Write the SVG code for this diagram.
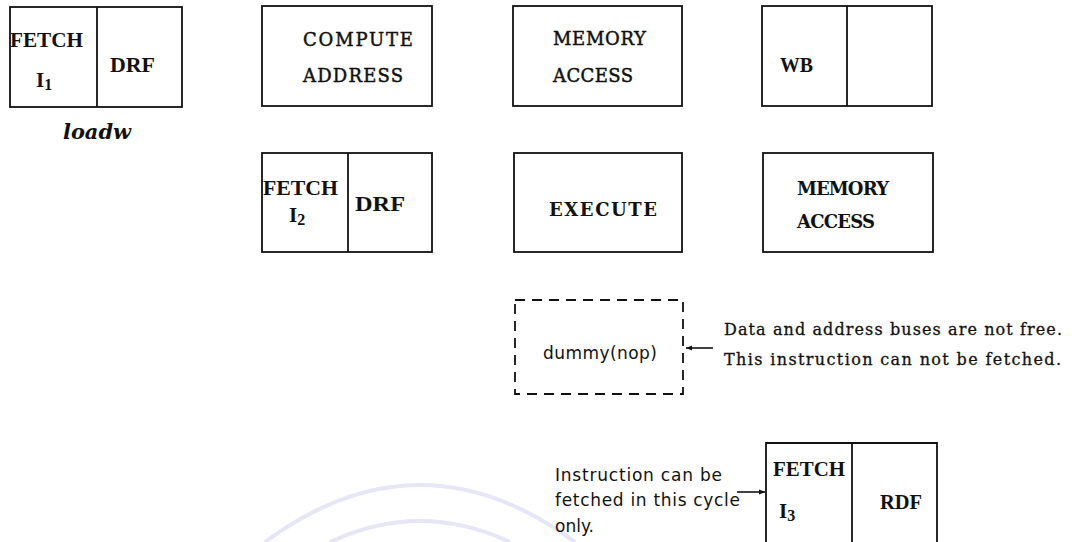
<svg xmlns="http://www.w3.org/2000/svg" width="1080" height="542" viewBox="0 0 1080 542">
<defs>
<style>
.box{fill:none;stroke:#111;stroke-width:1.8}
.dash{fill:none;stroke:#111;stroke-width:1.8;stroke-dasharray:10 7}
.lbl{font-family:"Liberation Serif","DejaVu Serif",serif;font-weight:bold;font-size:21px;fill:#111}
.lbm{font-family:"DejaVu Serif","Liberation Serif",serif;font-weight:bold;font-size:18px;fill:#111}
.lbn{font-family:"DejaVu Serif","Liberation Serif",serif;font-size:18px;fill:#111;stroke:#111;stroke-width:0.45}
.note{font-family:"DejaVu Serif","Liberation Serif",serif;font-size:16px;fill:#111;stroke:#111;stroke-width:0.3}
.sans{font-family:"DejaVu Sans","Liberation Sans",sans-serif;font-size:17px;fill:#111}
.conn{stroke:#111;stroke-width:1.6;fill:none}
</style>
<marker id="ah" viewBox="0 0 10 10" refX="10" refY="5" markerWidth="7" markerHeight="6" orient="auto" markerUnits="userSpaceOnUse">
<path d="M0,1 L10,5 L0,9 Z" fill="#111"/>
</marker>
</defs>
<rect width="1080" height="542" fill="#fff"/>
<g id="watermark" fill="none" stroke="#e6e6f6" stroke-width="4">
<path d="M265,542 Q420,428 575,542"/>
<path d="M330,542 Q420,500 510,542"/>
</g>
<g id="n_fetch1">
<rect class="box" x="10" y="7" width="172" height="100"/>
<line class="box" x1="97" y1="7" x2="97" y2="107"/>
<text class="lbl" x="10" y="47" textLength="73" lengthAdjust="spacingAndGlyphs">FETCH</text>
<text class="lbl" x="36" y="87">I<tspan font-size="16" dy="3">1</tspan></text>
<text class="lbl" x="110" y="72" textLength="45" lengthAdjust="spacingAndGlyphs">DRF</text>
</g>
<g id="t_loadw">
<text x="63" y="139" font-family="'DejaVu Serif','Liberation Serif',serif" font-style="italic" font-weight="bold" font-size="21" fill="#111" textLength="68" lengthAdjust="spacingAndGlyphs">loadw</text>
</g>
<g id="n_compute">
<rect class="box" x="262" y="6" width="170" height="100"/>
<text class="lbn" x="303" y="46" textLength="110" lengthAdjust="spacing">COMPUTE</text>
<text class="lbn" x="303" y="82" textLength="100" lengthAdjust="spacing">ADDRESS</text>
</g>
<g id="n_mem1">
<rect class="box" x="513" y="6" width="169" height="100"/>
<text class="lbn" x="553" y="45" textLength="93" lengthAdjust="spacing">MEMORY</text>
<text class="lbn" x="553" y="82" textLength="80" lengthAdjust="spacing">ACCESS</text>
</g>
<g id="n_wb">
<rect class="box" x="762" y="6" width="170" height="100"/>
<line class="box" x1="847" y1="6" x2="847" y2="106"/>
<text class="lbl" x="780" y="72" textLength="33" lengthAdjust="spacingAndGlyphs">WB</text>
</g>
<g id="n_fetch2">
<rect class="box" x="262" y="153" width="170" height="99"/>
<line class="box" x1="348" y1="153" x2="348" y2="252"/>
<text class="lbl" x="263" y="195" textLength="75" lengthAdjust="spacingAndGlyphs">FETCH</text>
<text class="lbl" x="289" y="222">I<tspan font-size="16" dy="3">2</tspan></text>
<text class="lbl" x="355" y="211" textLength="50" lengthAdjust="spacingAndGlyphs">DRF</text>
</g>
<g id="n_execute">
<rect class="box" x="514" y="153" width="168" height="99"/>
<text class="lbm" x="549" y="216" textLength="108" lengthAdjust="spacing">EXECUTE</text>
</g>
<g id="n_mem2">
<rect class="box" x="763" y="153" width="170" height="99"/>
<text class="lbm" x="797" y="195" textLength="92" lengthAdjust="spacing">MEMORY</text>
<text class="lbm" x="797" y="228" textLength="78" lengthAdjust="spacing">ACCESS</text>
</g>
<g id="n_dummy">
<rect class="dash" x="515" y="300" width="168" height="94"/>
<text class="sans" x="543" y="359" textLength="114" lengthAdjust="spacing">dummy(nop)</text>
</g>
<g id="t_note1">
<text class="note" x="724" y="335" textLength="338" lengthAdjust="spacing">Data and address buses are not free.</text>
<text class="note" x="724" y="365" textLength="337" lengthAdjust="spacing">This instruction can not be fetched.</text>
</g>
<g id="n_fetch3">
<path class="box" d="M766,542 V443 H937 V542"/>
<line class="box" x1="852" y1="443" x2="852" y2="542"/>
<text class="lbl" x="773" y="476" textLength="72" lengthAdjust="spacingAndGlyphs">FETCH</text>
<text class="lbl" x="779" y="518">I<tspan font-size="16" dy="3">3</tspan></text>
<text class="lbl" x="880" y="509" textLength="42" lengthAdjust="spacingAndGlyphs">RDF</text>
</g>
<g id="t_note2">
<text class="sans" font-size="16" x="555" y="481" textLength="167" lengthAdjust="spacing">Instruction can be</text>
<text class="sans" font-size="16" x="555" y="506" textLength="185" lengthAdjust="spacing">fetched in this cycle</text>
<text class="sans" font-size="16" x="555" y="532">only.</text>
</g>
<g id="connectors">
<line class="conn" x1="713" y1="348" x2="686" y2="348" marker-end="url(#ah)"/>
<line class="conn" x1="737" y1="492" x2="765" y2="492" marker-end="url(#ah)"/>
</g>
</svg>
